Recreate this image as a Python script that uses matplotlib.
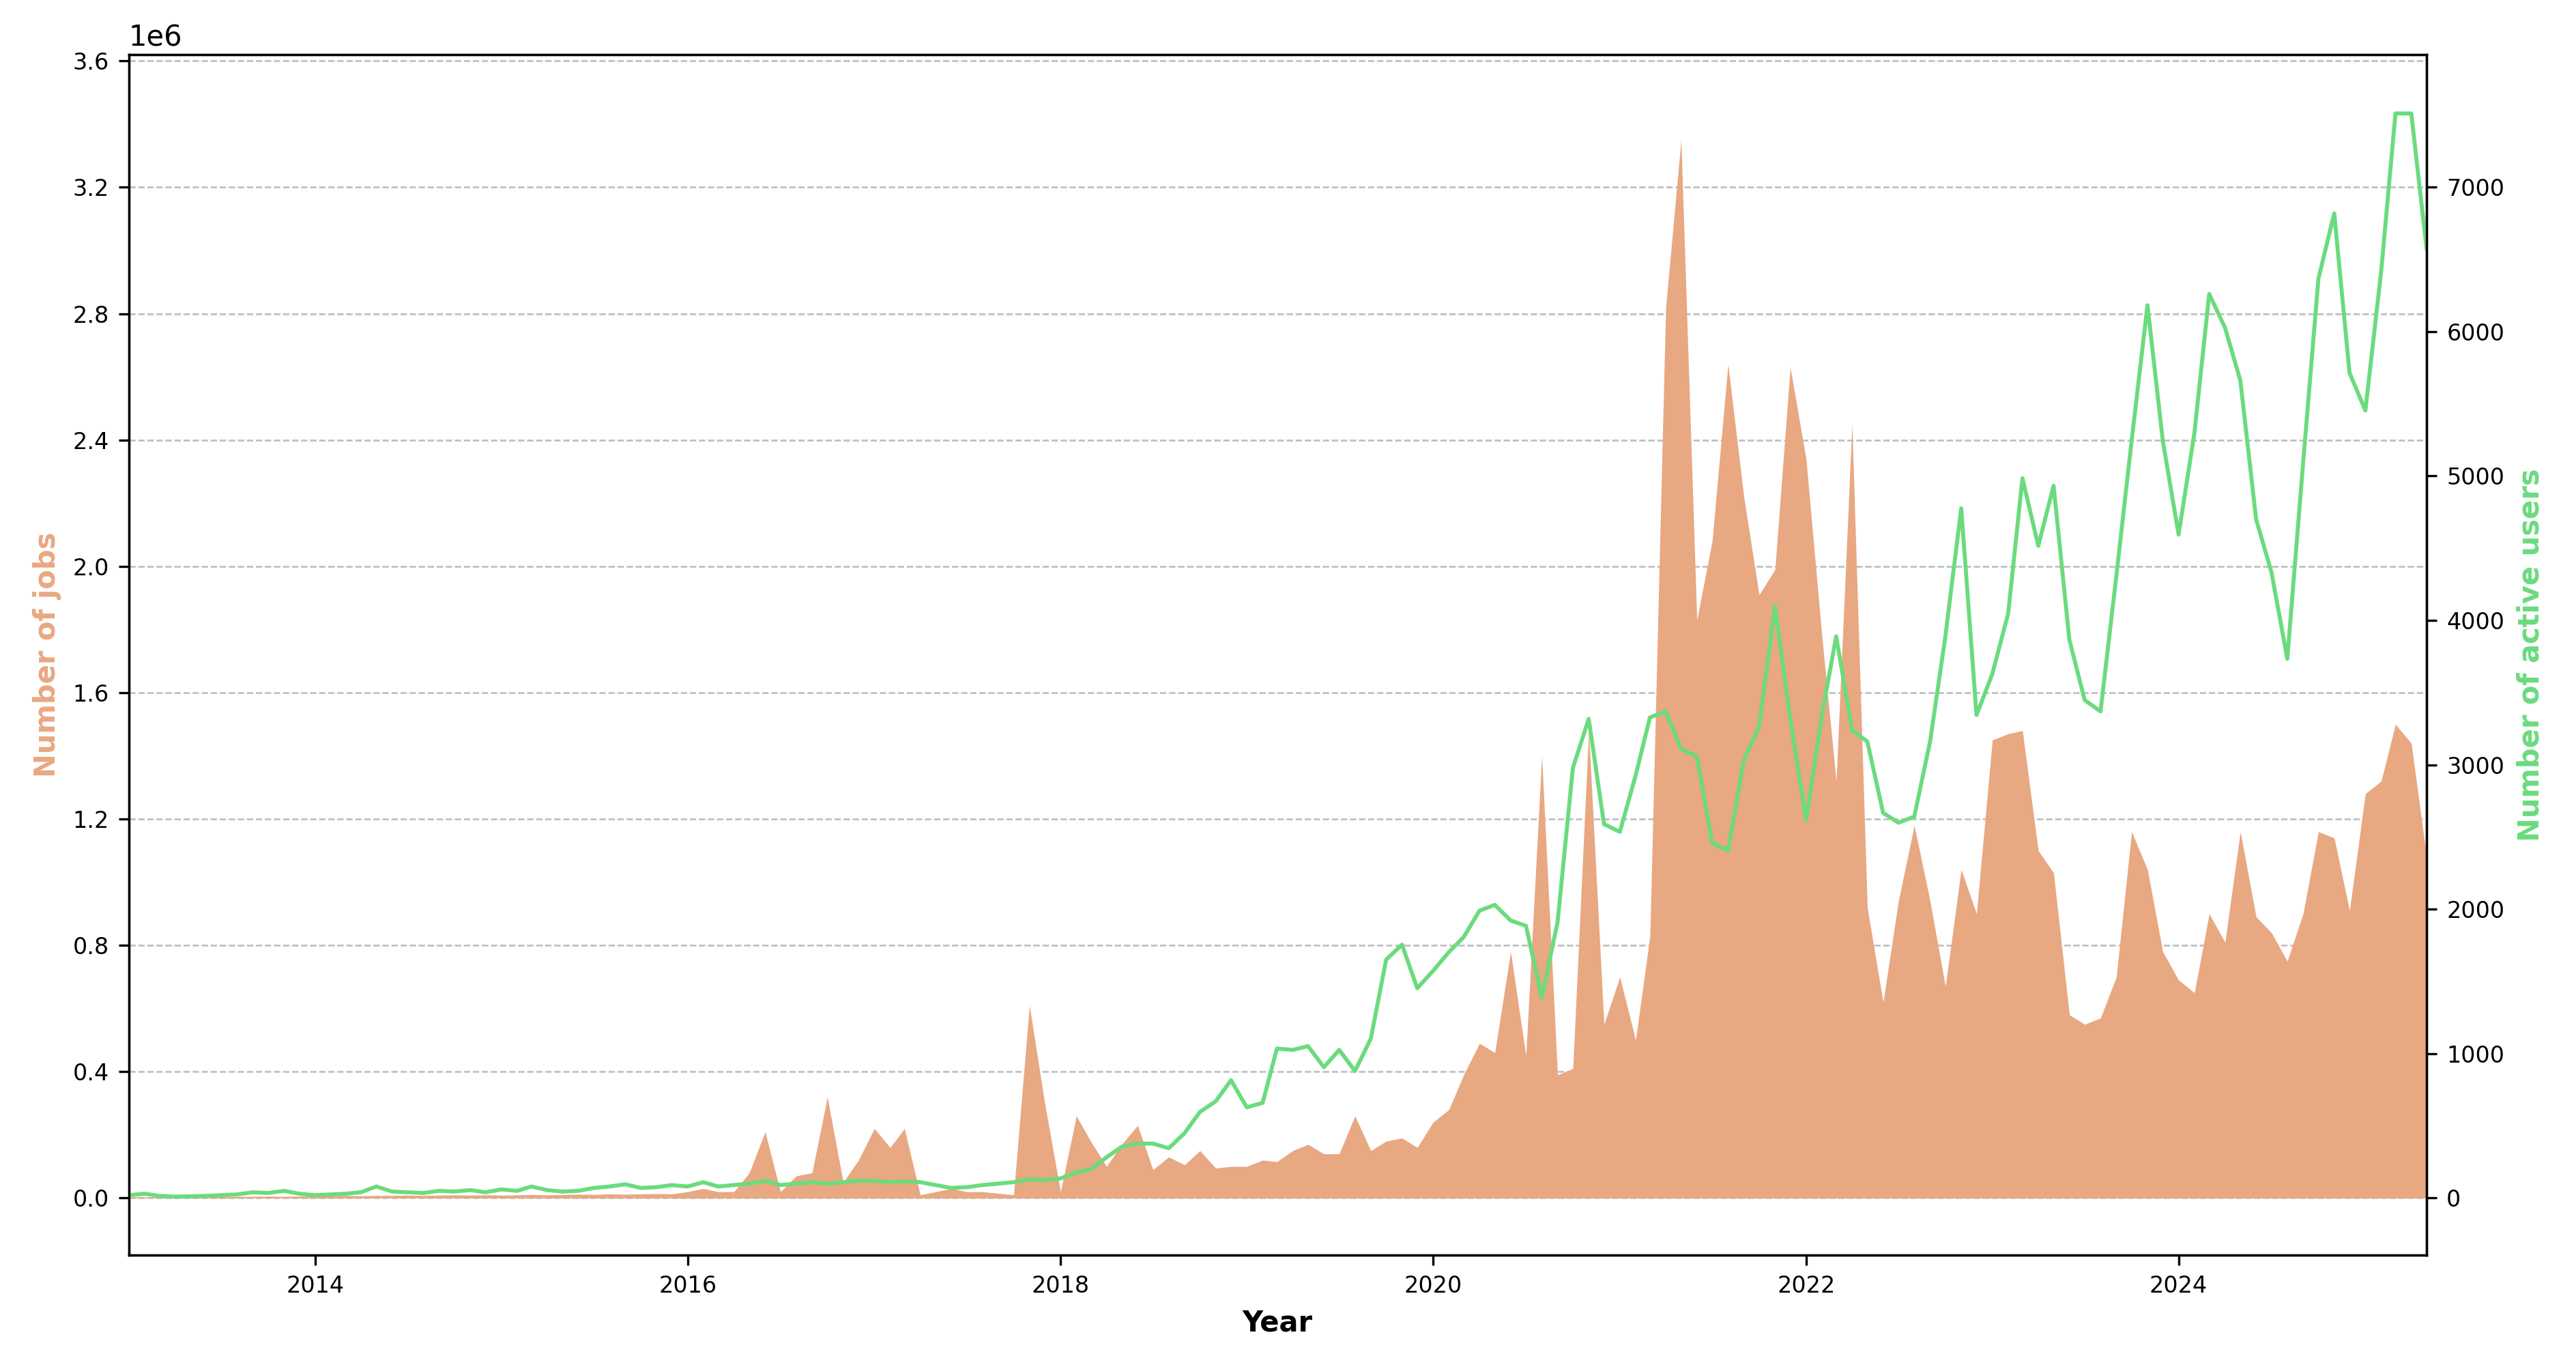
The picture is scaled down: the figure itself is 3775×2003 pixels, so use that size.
import matplotlib
matplotlib.use("Agg")
import matplotlib.pyplot as plt
import numpy as np
import pandas as pd

months = pd.date_range("2013-01-01", "2025-05-01", freq="MS")

jobs_m = [
 # 2013
 0.004,0.003,0.003,0.004,0.004,0.005,0.004,0.005,0.005,0.006,0.005,0.006,
 # 2014
 0.006,0.007,0.008,0.007,0.008,0.008,0.009,0.008,0.009,0.010,0.009,0.010,
 # 2015
 0.009,0.010,0.011,0.010,0.011,0.012,0.011,0.013,0.012,0.013,0.014,0.013,
 # 2016
 0.02,0.03,0.02,0.02,0.08,0.21,0.02,0.07,0.08,0.32,0.05,0.12,
 # 2017
 0.22,0.16,0.22,0.01,0.02,0.03,0.02,0.02,0.015,0.01,0.61,0.30,
 # 2018
 0.02,0.26,0.18,0.10,0.17,0.23,0.09,0.13,0.105,0.15,0.095,0.10,
 # 2019
 0.10,0.12,0.115,0.15,0.17,0.14,0.14,0.26,0.15,0.18,0.19,0.16,
 # 2020
 0.24,0.28,0.39,0.49,0.46,0.78,0.45,1.40,0.39,0.41,1.48,0.55,
 # 2021
 0.70,0.50,0.83,2.82,3.35,1.83,2.08,2.64,2.22,1.91,1.99,2.63,
 # 2022
 2.34,1.78,1.32,2.45,0.92,0.62,0.94,1.18,0.94,0.67,1.04,0.90,
 # 2023
 1.45,1.47,1.48,1.10,1.03,0.58,0.55,0.57,0.70,1.16,1.04,0.78,
 # 2024
 0.69,0.65,0.90,0.81,1.16,0.89,0.84,0.75,0.90,1.16,1.14,0.91,
 # 2025
 1.28,1.32,1.50,1.44,1.08,
]
jobs = [v * 1e6 for v in jobs_m]

users = [
 # 2013
 20,30,15,10,12,15,20,25,40,35,50,30,
 # 2014
 20,25,30,40,80,45,40,35,50,45,55,40,
 # 2015
 60,50,80,55,45,50,70,80,95,70,75,90,
 # 2016
 80,110,80,90,100,120,90,100,110,100,110,120,
 # 2017
 120,110,115,110,90,70,75,90,100,110,130,125,
 # 2018
 136,178,199,282,356,377,377,345,450,596,670,816,
 # 2019
 628,659,1035,1026,1052,906,1026,880,1104,1650,1755,1453,
 # 2020
 1573,1703,1807,1990,2030,1922,1885,1390,1911,2979,3318,2589,
 # 2021
 2536,2927,3328,3370,3109,3057,2458,2406,3031,3266,4099,3318,
 # 2022
 2615,3344,3890,3240,3161,2667,2599,2641,3161,3890,4776,3344,
 # 2023
 3630,4047,4984,4516,4932,3865,3448,3370,4307,5245,6182,5245,
 # 2024
 4594,5297,6260,6026,5661,4698,4333,3734,5089,6365,6818,5714,
 # 2025
 5453,6417,7510,7510,6573,
]

job_color = "#E8A882"
user_color = "#6BDB7E"

fig = plt.figure(figsize=(3775/300, 2003/300), dpi=300)
ax = fig.add_axes([0.05, 0.082, 0.892, 0.878])
ax.fill_between(months, jobs, color=job_color, alpha=1.0, linewidth=0)
ax.set_ylim(-0.18e6, 3.62e6)
ax.set_yticks(np.arange(0, 3.61e6, 0.4e6))
ax.grid(axis="y", linestyle="--", color="#bbbbbb", linewidth=0.6)
ax.set_axisbelow(True)
ax.set_xlim(months[0], months[-1])
ax.set_ylabel("Number of jobs", color=job_color, fontweight="bold", fontsize=10)
ax.set_xlabel("Year", fontweight="bold", fontsize=10)
ax.tick_params(labelsize=8)

ax2 = ax.twinx()
ax2.plot(months, users, color=user_color, linewidth=1.4)
ax2.set_ylim(-0.18e6 * 2187 / 1e6, 3.62e6 * 2187 / 1e6)
ax2.set_yticks(np.arange(0, 7001, 1000))
ax2.set_ylabel("Number of active users", color=user_color, fontweight="bold", fontsize=10)
ax2.tick_params(labelsize=8)

fig.savefig("out.png", dpi=300)
